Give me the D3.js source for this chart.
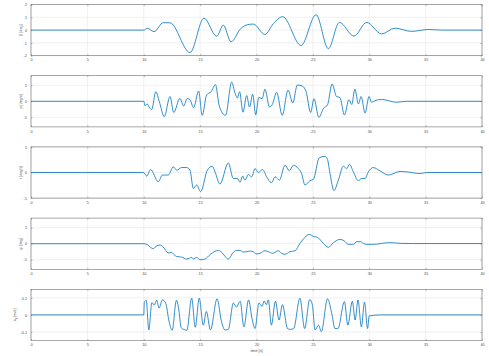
<!DOCTYPE html>
<html>
<head>
<meta charset="utf-8">
<script src="https://cdn.jsdelivr.net/npm/d3@7"></script>
<style>
  body { margin: 0; background: #fff; }
  svg { display: block; }
  text { font-family: "Liberation Sans", Arial, sans-serif; fill: #4d4d4d; }
</style>
</head>
<body>
<svg id="stage"></svg>
<script>
/* ---------- data (time [s], value) ---------- */

const x_ticks = [0, 5, 10, 15, 20, 25, 30, 35, 40];

const beta_pts = [
  [0, 0], [10, 0], [10.32, 0.14], [10.91, -0.12], [11.73, 0.58], [12.33, 0.57],
  [14.1, -1.75], [15.34, 0.93], [16.47, -0.48], [17.06, 0.38], [17.74, -0.92],
  [18.6, 0.12], [19.36, 0.45], [19.72, 0.47], [20.75, -0.34], [21.49, 0.5],
  [22.32, 1.05], [23.95, -1.2], [25.28, 1.2], [26.37, -1.45], [27.35, 0.6],
  [28.65, -0.47], [29.77, 0.6], [31.1, -0.3], [32.28, 0.15], [33.76, -0.1],
  [35.24, 0.05], [36.5, 0], [40, 0]
];

const p_pts = [
  [0, 0], [10, 0], [10.12, -1.4], [10.3, -0.8], [10.48, -1.8], [10.7, -2.6],
  [11.07, 3.0], [11.38, -0.1], [11.82, -4.8], [12.33, 1.5], [12.66, -3.5],
  [13.2, 0.9], [13.55, -1.5], [13.85, 0.9], [14.1, 0.5], [14.42, -2.0],
  [14.87, 3.2], [15.18, -4.4], [15.58, 2.0], [15.97, 3.0], [16.36, 5.2],
  [16.7, -1.5], [17.25, -4.4], [17.8, 6.0], [18.1, 2.5], [18.3, 1.0],
  [18.5, 3.0], [18.8, -3.4], [19.13, 1.8], [19.38, -1.8], [19.66, 2.2],
  [19.93, -4.2], [20.2, 1.2], [20.5, 0.8], [20.75, 3.8], [21.15, -1.8],
  [21.4, -1.0], [21.79, 2.8], [22.28, -4.4], [22.8, 3.5], [23.22, -0.5],
  [23.62, 5.1], [24.1, 4.7], [24.4, 3.0], [24.8, -3.5], [25.1, 0.8],
  [25.53, -5.0], [25.95, -2.2], [26.3, -1.1], [26.7, 5.4], [27.1, 1.5],
  [27.4, 1.2], [27.8, -4.3], [28.2, 0.5], [28.45, -1.0], [28.72, 3.8],
  [29.04, -0.8], [29.28, 1.5], [29.63, -3.7], [29.98, 1.5], [30.2, -0.3],
  [30.6, 0.3], [31.1, 0.6], [31.7, 0.2], [32.4, -0.3], [33.3, 0], [40, 0]
];

const r_pts = [
  [0, 0], [10, 0], [10.26, -0.7], [10.61, 0.58], [11.29, -1.8], [11.65, -0.5],
  [12.18, -0.5], [12.62, 1.1], [12.92, 0.45], [13.36, 0.97], [13.81, 0.97],
  [14.1, 0.45], [14.4, -3.1], [14.69, -2.45], [15.05, -3.74], [15.64, 0.45],
  [16.08, 1.23], [16.32, 0.13], [16.76, -2.26], [17.5, 1.87], [17.94, -1.16],
  [18.3, -1.16], [18.54, -1.9], [18.77, -0.7], [18.98, -1.5], [19.28, -0.39],
  [19.57, -0.84], [19.87, 0.77], [20.16, 0], [20.54, 0.58], [20.9, -0.84],
  [21.34, -2.0], [21.64, -0.84], [22.03, -1.48], [22.53, 1.42], [22.91, 0.32],
  [23.27, 1.42], [23.71, 0.77], [24.0, -0.2], [24.3, -2.45], [24.74, -1.6],
  [25.04, -1.35], [25.57, 2.9], [26.08, 3.16], [26.28, 2.7], [26.52, -0.2],
  [26.87, -3.55], [27.26, -1.48], [27.7, 1.23], [28.0, 0.77], [28.24, 1.6],
  [28.59, 0.13], [29.03, -1.6], [29.33, -1.16], [29.63, -1.16], [29.92, 0.13],
  [30.36, 0.97], [30.95, 0.32], [31.69, -0.5], [32.73, 0.2], [33.32, 0.13],
  [34.5, -0.2], [35.1, 0], [40, 0]
];

const phi_pts = [
  [0, 0], [10, 0], [10.26, -0.2], [10.85, -1.56], [11.08, -0.83], [11.44, -0.42],
  [11.73, -1.04], [12.18, -2.9], [12.47, -2.7], [12.62, -3.2], [12.92, -4.0],
  [13.36, -4.2], [13.81, -4.8], [14.25, -4.3], [14.4, -4.8], [14.69, -4.3],
  [14.99, -5.0], [15.43, -4.8], [15.88, -3.4], [16.62, -2.1], [16.91, -2.7],
  [17.5, -4.8], [17.94, -2.7], [18.24, -2.1], [18.53, -2.1], [18.83, -2.6],
  [19.1, -2.5], [19.42, -2.3], [19.72, -2.5], [19.95, -3.2], [20.31, -3.0],
  [20.75, -2.2], [21.05, -2.5], [21.43, -3.0], [21.94, -2.2], [22.23, -3.0],
  [22.53, -3.3], [22.97, -2.5], [23.42, -2.2], [23.86, 0.1], [24.3, 2.0],
  [24.68, 2.9], [25.1, 2.2], [25.4, 2.0], [25.93, 0.1], [26.37, -1.15],
  [26.81, 0.3], [27.41, 1.35], [27.76, 0.94], [28.15, -0.2], [28.59, -0.2],
  [28.89, 0.63], [29.24, 0.63], [29.48, 0.1], [29.77, -0.2], [30.36, -0.2],
  [30.95, 0], [31.55, 0.3], [32.14, 0.3], [32.73, 0.1], [33.92, 0.05], [40, 0.05]
];

const ay_pts = [
  [0, 0], [10, 0], [10.05, 0.075], [10.22, 0.085], [10.45, -0.088], [10.72, 0.072],
  [10.93, 0.058], [11.15, 0.086], [11.36, 0.04], [11.65, 0.088], [11.95, 0.068],
  [12.25, -0.04], [12.52, -0.09], [12.9, 0.086], [13.1, 0.035], [13.32, -0.075],
  [13.55, -0.085], [13.82, -0.09], [14.25, 0.098], [14.57, -0.072], [14.92, 0.098],
  [15.28, -0.06], [15.55, 0.02], [15.92, -0.088], [16.5, 0.094], [16.9, -0.04],
  [17.2, -0.088], [17.5, -0.085], [17.95, 0.07], [18.22, 0.045], [18.55, 0.08],
  [18.88, -0.07], [19.3, 0.088], [19.6, -0.02], [19.87, -0.08], [20.22, 0.07],
  [20.5, 0.05], [20.68, 0.082], [20.88, 0.06], [21.05, 0.088], [21.32, -0.06],
  [21.68, 0.08], [22.0, -0.03], [22.3, 0.06], [22.75, -0.08], [23.0, -0.085],
  [23.3, -0.08], [23.85, 0.098], [24.27, -0.08], [24.72, 0.09], [24.95, 0.06],
  [25.2, -0.088], [25.5, -0.06], [25.75, -0.098], [26.3, 0.094], [26.7, 0.0],
  [26.95, -0.08], [27.22, -0.08], [27.8, 0.078], [28.1, -0.06], [28.5, 0.08],
  [28.75, -0.03], [29.0, 0.088], [29.3, -0.07], [29.58, 0.075], [29.85, -0.08],
  [30.0, -0.006], [31, 0], [40, 0]
];

const panels = [
  { label: "β [deg]",   pts: beta_pts, domain: [-2, 2],       ticks: [-2, -1, 0, 1, 2], lx: 22 },
  { label: "p [deg/s]", pts: p_pts,    domain: [-8, 8],       ticks: [-5, 0, 5],        lx: 22 },
  { label: "r [deg/s]", pts: r_pts,    domain: [-5, 5],       ticks: [-5, 0, 5],        lx: 22 },
  { label: "φ [deg]",   pts: phi_pts,  domain: [-8, 8],       ticks: [-5, 0, 5],        lx: 22 },
  { label: "a_y [m/s]", pts: ay_pts,   domain: [-0.15, 0.15], ticks: [-0.1, 0, 0.1],    lx: 16 }
];

/* ---------- setup ---------- */

const width = 489;
const height = 356;
const left = 31, right = 482;
const panel_h = 51.2, panel_step = 71.2, first_top = 4.5;

const svg = d3.select("#stage")
  .attr("width", width)
  .attr("height", height);

const x = d3.scaleLinear().domain([0, 40]).range([left, right]);

const grid_col = "#e3e3e3";
const box_col = "#6e6e6e";
const line_col = "#0072BD";

panels.forEach((p, i) => {
  const top = first_top + i * panel_step;
  const bottom = top + panel_h;
  const y = d3.scaleLinear().domain(p.domain).range([bottom, top]);
  const g = svg.append("g");

  // grid
  g.append("g").selectAll("line")
    .data(x_ticks)
    .join("line")
    .attr("x1", d => x(d)).attr("x2", d => x(d))
    .attr("y1", top).attr("y2", bottom)
    .attr("stroke", grid_col).attr("stroke-width", 0.5);

  g.append("g").selectAll("line")
    .data(p.ticks)
    .join("line")
    .attr("x1", left).attr("x2", right)
    .attr("y1", d => y(d)).attr("y2", d => y(d))
    .attr("stroke", grid_col).attr("stroke-width", 0.5);

  // series
  const line = d3.line()
    .x(d => x(d[0]))
    .y(d => y(d[1]))
    .curve(d3.curveMonotoneX);

  g.append("path")
    .datum(p.pts)
    .attr("d", line)
    .attr("fill", "none")
    .attr("stroke", line_col)
    .attr("stroke-width", 0.8);

  // axes (ticks inward)
  const fmt = d => String(d);
  const ax_b = g.append("g").attr("transform", `translate(0,${bottom})`)
    .call(d3.axisBottom(x).tickValues(x_ticks).tickSize(-1.5).tickPadding(3).tickFormat(fmt));
  const ax_t = g.append("g").attr("transform", `translate(0,${top})`)
    .call(d3.axisTop(x).tickValues(x_ticks).tickSize(-1.5).tickFormat(""));
  const ax_l = g.append("g").attr("transform", `translate(${left},0)`)
    .call(d3.axisLeft(y).tickValues(p.ticks).tickSize(-1.5).tickPadding(4).tickFormat(fmt));
  const ax_r = g.append("g").attr("transform", `translate(${right},0)`)
    .call(d3.axisRight(y).tickValues(p.ticks).tickSize(-1.5).tickFormat(""));

  [ax_b, ax_t, ax_l, ax_r].forEach(a => {
    a.select(".domain").remove();
    a.selectAll(".tick line").attr("stroke", box_col).attr("stroke-width", 0.5);
    a.selectAll("text").attr("font-size", 3.8).attr("fill", "#4d4d4d");
  });

  // box
  g.append("rect")
    .attr("x", left).attr("y", top)
    .attr("width", right - left).attr("height", panel_h)
    .attr("fill", "none")
    .attr("stroke", box_col)
    .attr("stroke-width", 0.6);

  // y label
  const lab = g.append("text")
    .attr("transform", `translate(${p.lx},${(top + bottom) / 2}) rotate(-90)`)
    .attr("text-anchor", "middle")
    .attr("font-size", 3.8);
  if (p.label.startsWith("a_y")) {
    lab.append("tspan").text("a");
    lab.append("tspan").attr("font-size", 2.8).attr("dy", 1).text("y");
    lab.append("tspan").attr("dy", -1).text(" [m/s]");
  } else {
    lab.text(p.label);
  }
});

// x label
svg.append("text")
  .attr("x", (left + right) / 2)
  .attr("y", first_top + 4 * panel_step + panel_h + 11)
  .attr("text-anchor", "middle")
  .attr("font-size", 3.8)
  .text("time [s]");
</script>
</body>
</html>
